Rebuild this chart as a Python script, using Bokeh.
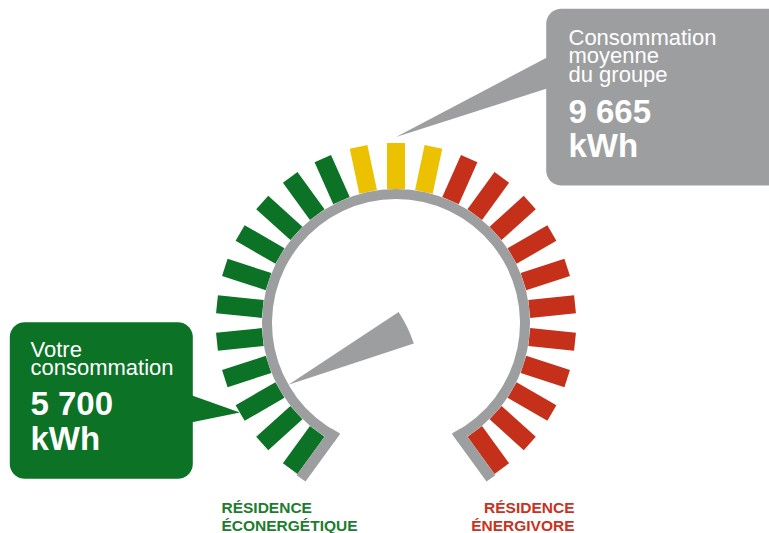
import numpy as np
from bokeh.plotting import figure
from bokeh.models import Range1d
from bokeh.embed import file_html
from bokeh.resources import INLINE
from bokeh.core.properties import value

# ---------------- data ----------------
segment_zones = ["éco"] * 11 + ["moyen"] * 3 + ["énergivore"] * 11
votre_consommation = 5700
moyenne_groupe = 9665
unite = "kWh"
gauge_min = 4900
gauge_max = 14430
votre_label = ["Votre", "consommation"]
groupe_label = ["Consommation", "moyenne", "du groupe"]
low_label = ["RÉSIDENCE", "ÉCONERGÉTIQUE"]
high_label = ["RÉSIDENCE", "ÉNERGIVORE"]

# ---------------- style ----------------
GREEN = "#0B7226"
YELLOW = "#EBC100"
RED = "#C4301A"
GRAY = "#9D9EA0"
LABEL_GREEN = "#1D7C2D"
LABEL_RED = "#C8321E"
zone_colors = {"éco": GREEN, "moyen": YELLOW, "énergivore": RED}
FONT = value("Liberation Sans")

W, H = 769, 533
IMG_H = 533


def Y(iy):
    return IMG_H - iy


def TY(baseline, fs):
    # baseline position in picture pixels -> data y for the text glyph
    return Y(baseline) + 0.36 * fs


CX, CY = 395.5, Y(322.5)
START_ANG, SPAN = 234.0, 288.0
R_IN, R_OUT = 124.0, 134.0
BAR_IN, BAR_OUT, BAR_W = 134.0, 180.0, 18.0


def angle_of(v):
    return START_ANG - (v - gauge_min) / (gauge_max - gauge_min) * SPAN


def fmt(v):
    return f"{v:,}".replace(",", " ")


def rounded_rect(x0, x1, y0, y1, r, n=10):
    xs, ys = [], []
    corners = [(x1 - r, y1 - r, 0, 90), (x0 + r, y1 - r, 90, 180),
               (x0 + r, y0 + r, 180, 270), (x1 - r, y0 + r, 270, 360)]
    for cx, cy, a0, a1 in corners:
        t = np.radians(np.linspace(a0, a1, n))
        xs.extend(cx + r * np.cos(t))
        ys.extend(cy + r * np.sin(t))
    return xs, ys


p = figure(width=W, height=H, x_range=Range1d(0, W), y_range=Range1d(IMG_H - H, IMG_H),
           output_backend="svg", toolbar_location=None, min_border=0,
           x_axis_location=None, y_axis_location=None, outline_line_color=None)
p.grid.visible = False
p.background_fill_color = "white"

# ---------------- gauge bars ----------------
n = len(segment_zones)
step = SPAN / (n - 1)
angs = np.radians(START_ANG - step * np.arange(n))
rmid = (BAR_IN + BAR_OUT) / 2
p.rect(x=CX + rmid * np.cos(angs), y=CY + rmid * np.sin(angs), width=BAR_OUT - BAR_IN,
       height=BAR_W, angle=angs, fill_color=[zone_colors[z] for z in segment_zones], line_color=None)

# ---------------- ring ----------------
end_pad = np.degrees(np.arcsin(20 / R_OUT))
p.annular_wedge(x=CX, y=CY, inner_radius=R_IN, outer_radius=R_OUT,
                start_angle=np.radians(START_ANG - SPAN - end_pad), end_angle=np.radians(START_ANG + end_pad),
                direction="anticlock", fill_color=GRAY, line_color=None)

# tails at both ends
for th_deg, sgn in [(START_ANG, 1), (START_ANG - SPAN, -1)]:
    th = np.radians(th_deg)
    u = np.array([np.cos(th), np.sin(th)])
    v = sgn * np.array([-np.sin(th), np.cos(th)])
    pts = []
    for s, t in [(np.sqrt(R_IN**2 - 9**2), 9), (181.5, 9), (181.5, 20), (np.sqrt(R_IN**2 - 20**2), 20)]:
        q = s * u + t * v
        pts.append((CX + q[0], CY + q[1]))
    p.patch([a for a, b in pts], [b for a, b in pts], fill_color=GRAY, line_color=None)

# ---------------- needle ----------------
na = angle_of(votre_consommation)
tip_x = CX + R_IN * np.cos(np.radians(na))
tip_y = CY + R_IN * np.sin(np.radians(na))
back = na - 180
p.wedge(x=tip_x, y=tip_y, radius=132, start_angle=np.radians(back - 11.6), end_angle=np.radians(back + 3.6),
        direction="anticlock", fill_color=GRAY, line_color=None)

# ---------------- green callout ----------------
gx, gy = rounded_rect(9.3, 192.3, Y(478.3), Y(321.7), 15)
p.patch(gx, gy, fill_color=GREEN, line_color=None)
ptip_x = CX + 180 * np.cos(np.radians(na))
ptip_y = CY + 180 * np.sin(np.radians(na))
p.patch([191.5, ptip_x, 191.5], [Y(395), ptip_y, Y(421.7)], fill_color=GREEN, line_color=None)

p.text(x=[30, 30], y=[TY(356.7, 22), TY(375, 22)], text=votre_label, text_font=FONT, text_font_size="22px",
       text_color="white", text_baseline="alphabetic", text_align="left")
p.text(x=[30, 30], y=[TY(415, 33), TY(450, 33)], text=[fmt(votre_consommation), unite], text_font=FONT,
       text_font_size="33px", text_font_style="bold", text_color="white",
       text_baseline="alphabetic", text_align="left")

# ---------------- gray callout ----------------
ma = angle_of(moyenne_groupe)
gtip_x = CX + 186 * np.cos(np.radians(ma))
gtip_y = CY + 186 * np.sin(np.radians(ma))
bx, by = rounded_rect(545.7, 800, Y(185), Y(8.3), 15)
p.patch(bx, by, fill_color=GRAY, line_color=None)
p.patch([546.5, gtip_x, 546.5], [Y(57), gtip_y, Y(88)], fill_color=GRAY, line_color=None)

p.text(x=[568] * 3, y=[TY(45, 22), TY(63.3, 22), TY(81.7, 22)], text=groupe_label, text_font=FONT,
       text_font_size="22px", text_color="white", text_baseline="alphabetic", text_align="left")
p.text(x=[568, 568], y=[TY(122.7, 33), TY(156.7, 33)], text=[fmt(moyenne_groupe), unite], text_font=FONT,
       text_font_size="33px", text_font_style="bold", text_color="white",
       text_baseline="alphabetic", text_align="left")

# ---------------- bottom labels ----------------
p.text(x=[221, 221], y=[TY(513, 15.5), TY(531, 15.5)], text=low_label, text_font=FONT,
       text_font_size="15.5px", text_font_style="bold", text_color=LABEL_GREEN,
       text_baseline="alphabetic", text_align="left")
p.text(x=[574, 574], y=[TY(513, 15.5), TY(531, 15.5)], text=high_label, text_font=FONT,
       text_font_size="15.5px", text_font_style="bold", text_color=LABEL_RED,
       text_baseline="alphabetic", text_align="right")

open("out.html", "w").write(file_html(p, INLINE))
